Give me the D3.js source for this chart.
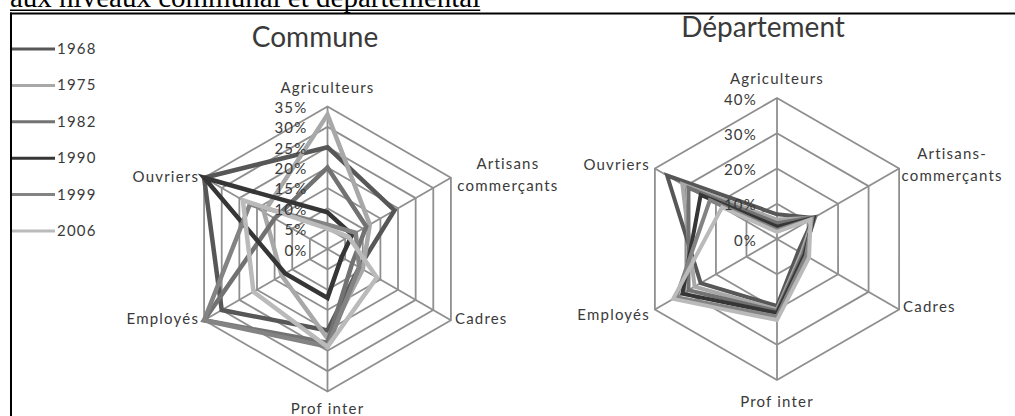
<!DOCTYPE html>
<html>
<head>
<meta charset="utf-8">
<script src="https://cdn.jsdelivr.net/npm/d3@7"></script>
<style>
  body { margin: 0; background: #fff; }
  svg { display: block; }
</style>
</head>
<body>
<svg id="chart" width="1015" height="416"></svg>
<script>
// categories, clockwise from the top axis
const categories = ["Agriculteurs", "Artisans commerçants", "Cadres", "Prof inter", "Employés", "Ouvriers"];
const years = ["1968", "1975", "1982", "1990", "1999", "2006"];

// shares of the active population (%), one row per year, same order as categories
const commune = [
  [25, 19, 9, 20, 30, 35],
  [33, 12, 10, 22, 13, 18],
  [20, 11, 7, 23, 35, 15],
  [9, 7, 4, 12, 12, 35],
  [6, 8, 9, 24, 35, 22],
  [5, 6, 14, 24, 21, 24]
];
const departement = [
  [7, 12, 7, 19, 25, 36],
  [5.5, 12, 8, 20, 27, 31],
  [4.5, 12.5, 8.5, 20.5, 29, 29],
  [3.5, 12, 9, 21, 31, 25],
  [2.5, 11.5, 9.5, 22, 33, 22],
  [2, 11, 10.5, 23, 34, 18]
];
const communeTicks = [0, 5, 10, 15, 20, 25, 30, 35];
const departementTicks = [0, 10, 20, 30, 40];

const yearColors = ["#575757", "#a8a8a8", "#727272", "#363636", "#838383", "#bababa"];
const gridColor = "#8f8f8f";
const textColor = "#3a3a3a";
const labelFont = "Lato, 'Open Sans', sans-serif";

const svg = d3.select("#chart");

// page heading, mostly scrolled out of view
const heading = svg.append("text")
  .attr("x", 10)
  .attr("y", 7)
  .attr("font-family", "'Liberation Serif', 'Times New Roman', serif")
  .attr("font-size", 29)
  .attr("fill", "#000")
  .text("aux niveaux communal et départemental");
const headingWidth = heading.node().getComputedTextLength();
svg.append("line")
  .attr("x1", 10).attr("x2", 10 + headingWidth)
  .attr("y1", 10.2).attr("y2", 10.2)
  .attr("stroke", "#000").attr("stroke-width", 1.4);

// frame of the figure
svg.append("line")
  .attr("x1", 10).attr("x2", 1015)
  .attr("y1", 13.5).attr("y2", 13.5)
  .attr("stroke", "#000").attr("stroke-width", 2);
svg.append("line")
  .attr("x1", 11).attr("x2", 11)
  .attr("y1", 12.5).attr("y2", 416)
  .attr("stroke", "#000").attr("stroke-width", 2);

svg.append("clipPath").attr("id", "img-clip")
  .append("rect")
  .attr("x", 12).attr("y", 14.5)
  .attr("width", 991).attr("height", 402);

const img = svg.append("g").attr("clip-path", "url(#img-clip)");

// legend
const legendY = d3.scalePoint().domain(years).range([49, 231]);
const legend = img.append("g")
  .selectAll("g")
  .data(years)
  .join("g")
  .attr("transform", d => `translate(0,${legendY(d)})`);
legend.append("line")
  .attr("x1", 12).attr("x2", 55)
  .attr("stroke", (d, i) => yearColors[i])
  .attr("stroke-width", 3);
legend.append("text")
  .attr("x", 57)
  .attr("y", 5)
  .attr("font-family", labelFont)
  .attr("font-size", 15)
  .attr("letter-spacing", 1.2)
  .attr("fill", textColor)
  .text(d => d);

function radar(opts) {
  const g = img.append("g").attr("transform", `translate(${opts.cx},${opts.cy})`);
  const max = d3.max(opts.ticks);
  const r = d3.scaleLinear().domain([0, max]).range([0, opts.R]);
  const angle = d3.scalePoint().domain(d3.range(categories.length + 1)).range([0, 2 * Math.PI]);
  const pt = (i, v) => [Math.sin(angle(i)) * r(v), -Math.cos(angle(i)) * r(v)];

  const ring = d3.lineRadial()
    .angle((d, i) => angle(i))
    .radius(d => r(d))
    .curve(d3.curveLinearClosed);

  // rings
  g.append("g")
    .selectAll("path")
    .data(opts.ticks.filter(t => t > 0))
    .join("path")
    .attr("d", t => ring(categories.map(() => t)))
    .attr("fill", "none")
    .attr("stroke", gridColor)
    .attr("stroke-width", 1.8);

  // spokes
  g.append("g")
    .selectAll("line")
    .data(categories)
    .join("line")
    .attr("x1", 0).attr("y1", 0)
    .attr("x2", (d, i) => pt(i, max)[0])
    .attr("y2", (d, i) => pt(i, max)[1])
    .attr("stroke", gridColor)
    .attr("stroke-width", 1.8);

  // series
  g.append("g")
    .selectAll("path")
    .data(opts.values)
    .join("path")
    .attr("d", d => ring(d))
    .attr("fill", "none")
    .attr("stroke", (d, i) => yearColors[i])
    .attr("stroke-width", opts.lineWidth)
    .attr("stroke-linejoin", "miter");

  // value axis labels
  g.append("g")
    .selectAll("text")
    .data(opts.ticks)
    .join("text")
    .attr("x", -20)
    .attr("y", t => -r(t) + 6.5)
    .attr("text-anchor", "end")
    .attr("font-family", labelFont)
    .attr("font-size", 15)
    .attr("letter-spacing", 1.2)
    .attr("fill", textColor)
    .text(t => t + "%");

  // category labels
  const lab = g.append("g")
    .selectAll("text")
    .data(opts.labels)
    .join("text")
    .attr("x", (d, i) => pt(i, max)[0] + opts.labelPos[i][0])
    .attr("y", (d, i) => pt(i, max)[1] + opts.labelPos[i][1])
    .attr("text-anchor", (d, i) => opts.labelPos[i][2])
    .attr("font-family", labelFont)
    .attr("font-size", 15)
    .attr("letter-spacing", 1.2)
    .attr("fill", textColor);
  lab.selectAll("tspan")
    .data(d => d)
    .join("tspan")
    .attr("x", function () { return d3.select(this.parentNode).attr("x"); })
    .attr("dy", (d, i) => i === 0 ? 0 : 22)
    .text(d => d);

  // title
  img.append("text")
    .attr("x", opts.titleX)
    .attr("y", opts.titleY)
    .attr("text-anchor", "middle")
    .attr("font-family", labelFont)
    .attr("font-size", 28)
    .attr("fill", textColor)
    .text(opts.title);
}

radar({
  title: "Commune", titleX: 315, titleY: 47,
  cx: 327.5, cy: 249, R: 142.5,
  ticks: communeTicks, values: commune, lineWidth: 4.5,
  labels: [["Agriculteurs"], ["Artisans", "commerçants"], ["Cadres"], ["Prof inter"], ["Employés"], ["Ouvriers"]],
  labelPos: [[0, -14, "middle"], [57, -9, "middle"], [4, 4, "start"], [0, 22, "middle"], [-5, 4, "end"], [-5, 4, "end"]]
});

radar({
  title: "Département", titleX: 763, titleY: 37,
  cx: 777, cy: 239, R: 141,
  ticks: departementTicks, values: departement, lineWidth: 4,
  labels: [["Agriculteurs"], ["Artisans-", "commerçants"], ["Cadres"], ["Prof inter"], ["Employés"], ["Ouvriers"]],
  labelPos: [[0, -14, "middle"], [53, -9.5, "middle"], [4, 2, "start"], [0, 27, "middle"], [-5, 10, "end"], [-5, 1, "end"]]
});
</script>
</body>
</html>
